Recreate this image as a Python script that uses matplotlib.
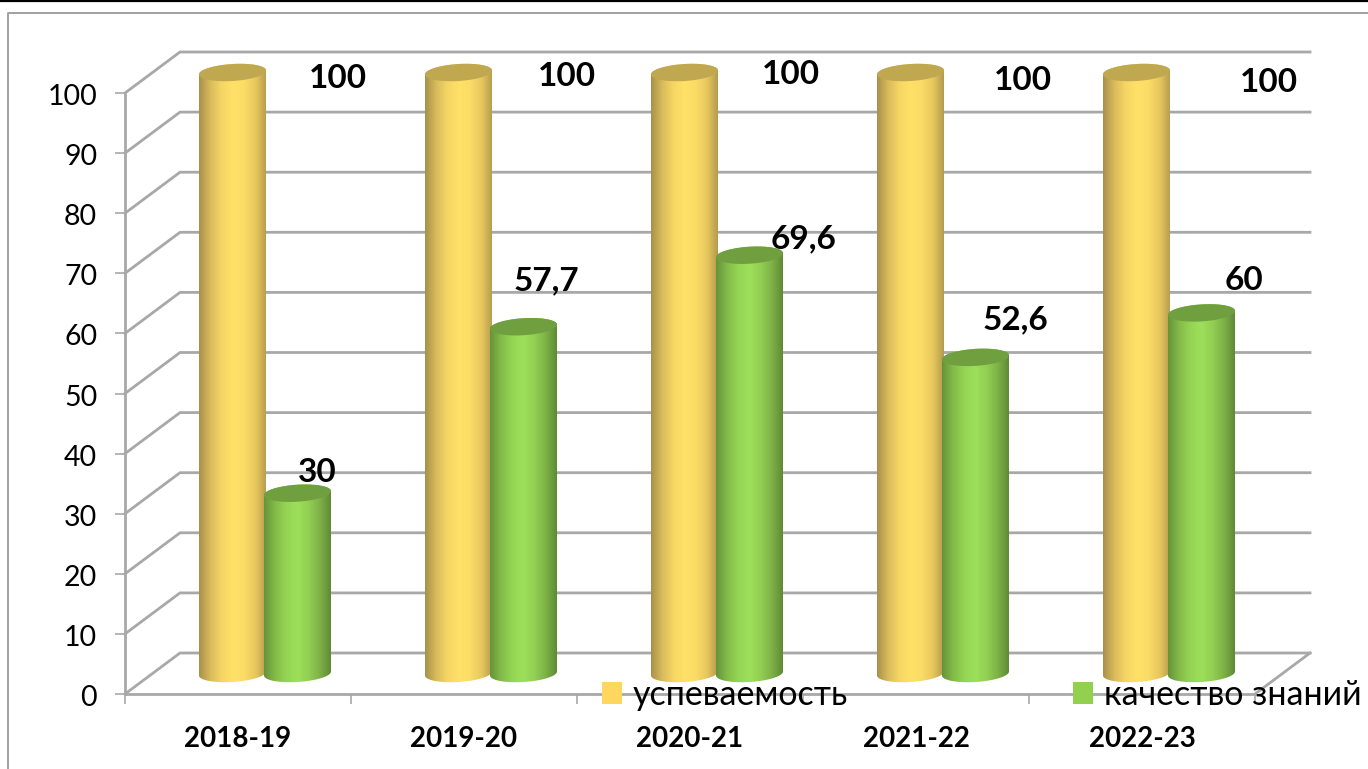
import numpy as np
import matplotlib
matplotlib.use("Agg")
import matplotlib.pyplot as plt
from matplotlib.colors import LinearSegmentedColormap
from matplotlib.lines import Line2D
from matplotlib.patches import PathPatch, Patch
from matplotlib.path import Path
from matplotlib.transforms import ScaledTranslation

years = ["2018-19", "2019-20", "2020-21", "2021-22", "2022-23"]
uspevaemost = [100, 100, 100, 100, 100]
kachestvo = [30, 57.7, 69.6, 52.6, 60]
uspevaemost_labels = ["100", "100", "100", "100", "100"]
kachestvo_labels = ["30", "57,7", "69,6", "52,6", "60"]
yticks = list(range(0, 101, 10))

W, H = 1368, 769
plt.rcParams["font.family"] = ["Lato", "Open Sans", "DejaVu Sans"]
GRID = "#a8a8a8"

fig = plt.figure(figsize=(W / 100, H / 100), dpi=100)
# front plane of the fake 3d box: x 125..1255, y 694..93 in pixels
ax = fig.add_axes([125 / W, 1 - 694 / H, 1130 / W, 601 / H])
ax.set_xlim(-0.5, 4.5)
ax.set_ylim(0, 100)
ax.patch.set_alpha(0)

px_x = 5 / 1130
px_y = 100 / 601
depth_x = 55 * px_x
depth_y = 41 * px_y

# back wall and left side lines
for v in yticks:
    ax.plot([-0.5, -0.5 + depth_x, 4.5 + depth_x], [v, v + depth_y, v + depth_y],
            color=GRID, lw=2, clip_on=False, zorder=1, solid_joinstyle="miter")
ax.plot([4.5, 4.5 + depth_x], [0, depth_y], color=GRID, lw=2, clip_on=False, zorder=1)

cm_yellow = LinearSegmentedColormap.from_list(
    "y", ["#a8904a", "#d9bb5c", "#f5d664", "#ffe168", "#fbdc66", "#e8c85e", "#b39a4e"])
cm_green = LinearSegmentedColormap.from_list(
    "g", ["#66933a", "#83bb48", "#95d454", "#9ddf5a", "#92cf52", "#7eb247", "#5f8a36"])


def cylinder(cx, value, cmap, top_color, z):
    a = 33.5 * px_x
    b = 8.5 * px_y
    tilt = 2 * px_y
    base = 0.5 * depth_y
    t_low = np.linspace(np.pi, 2 * np.pi, 60)
    t_up = np.linspace(0, np.pi, 60)
    t_all = np.linspace(0, 2 * np.pi, 120)
    top = base + value

    xs = np.r_[cx + a * np.cos(t_low), cx + a * np.cos(t_up)]
    ys = np.r_[base + b * np.sin(t_low) + tilt * np.cos(t_low),
               top + b * np.sin(t_up) + tilt * np.cos(t_up)]
    body = PathPatch(Path(np.column_stack([xs, ys])), fc="none", ec="none", transform=ax.transData)
    ax.add_patch(body)
    im = ax.imshow(np.linspace(0, 1, 256)[None, :], cmap=cmap, aspect="auto", zorder=z,
                   extent=(cx - a, cx + a, base - 2 * b, top + 2 * b), interpolation="bilinear")
    # the top of the tallest bars is above the axes box
    im.set_clip_box(fig.bbox)
    im.set_clip_path(body)
    ax.fill(cx + a * np.cos(t_all), top + b * np.sin(t_all) + tilt * np.cos(t_all),
            color=top_color, lw=0, zorder=z + 0.1, clip_on=False)


for i in range(len(years)):
    cx = i + 0.5 * depth_x
    cylinder(cx - 33 * px_x, uspevaemost[i], cm_yellow, "#c0a850", 3)
    cylinder(cx + 32 * px_x, kachestvo[i], cm_green, "#6f9f3f", 4)
ax.set_xlim(-0.5, 4.5)
ax.set_ylim(0, 100)

# axes and ticks
for s in ["top", "right"]:
    ax.spines[s].set_visible(False)
for s in ["left", "bottom"]:
    ax.spines[s].set_color(GRID)
    ax.spines[s].set_linewidth(2)
    ax.spines[s].set_zorder(2)
ax.set_yticks(yticks)
ax.set_xticks(np.arange(-0.5, 5, 1))
ax.set_xticklabels([])
ax.set_xticks(range(5), years, minor=True, fontweight="bold", fontsize=20)
ax.tick_params(axis="x", which="minor", length=0, pad=23)
ax.tick_params(axis="x", which="major", length=7, width=1.2, color=GRID)
ax.tick_params(axis="y", length=7, width=1.2, color=GRID, labelsize=20.5, pad=13)
for lbl in ax.get_yticklabels():
    lbl.set_transform(lbl.get_transform() + ScaledTranslation(0, -0.015, fig.dpi_scale_trans))

# data labels sit where they were dragged to in the original
usp_pos = [(338, 79), (567, 77), (791, 74), (1023, 80), (1269, 82)]
kach_pos = [(317, 472), (546, 281), (804, 239), (1015, 320), (1244, 280)]
for txt, p in zip(uspevaemost_labels + kachestvo_labels, usp_pos + kach_pos):
    fig.text(p[0] / W, 1 - p[1] / H, txt, fontweight="bold", fontsize=24,
             ha="center", va="center", zorder=10)

handles = [Patch(fc="#ffd75e", ec="none", label="успеваемость"),
           Patch(fc="#92d050", ec="none", label="качество знаний")]
leg = ax.legend(handles=handles, ncol=2, frameon=False, fontsize=24.5, handlelength=0.59,
                handleheight=0.59, handletextpad=0.32, columnspacing=6.6, borderpad=0,
                borderaxespad=0, loc="center left",
                bbox_to_anchor=(602 / W, 1 - 695 / H), bbox_transform=fig.transFigure)
leg.set_zorder(9)

# outer frame and black line of the screenshot
fig.add_artist(Line2D([8 / W, 8 / W, 1], [0, 1 - 13 / H, 1 - 13 / H], color="#a0a0a0", lw=1.4))
fig.add_artist(Line2D([0, 1], [1 - 0.5 / H, 1 - 0.5 / H], color="black", lw=1.6))

fig.savefig("out.png", dpi=100)
